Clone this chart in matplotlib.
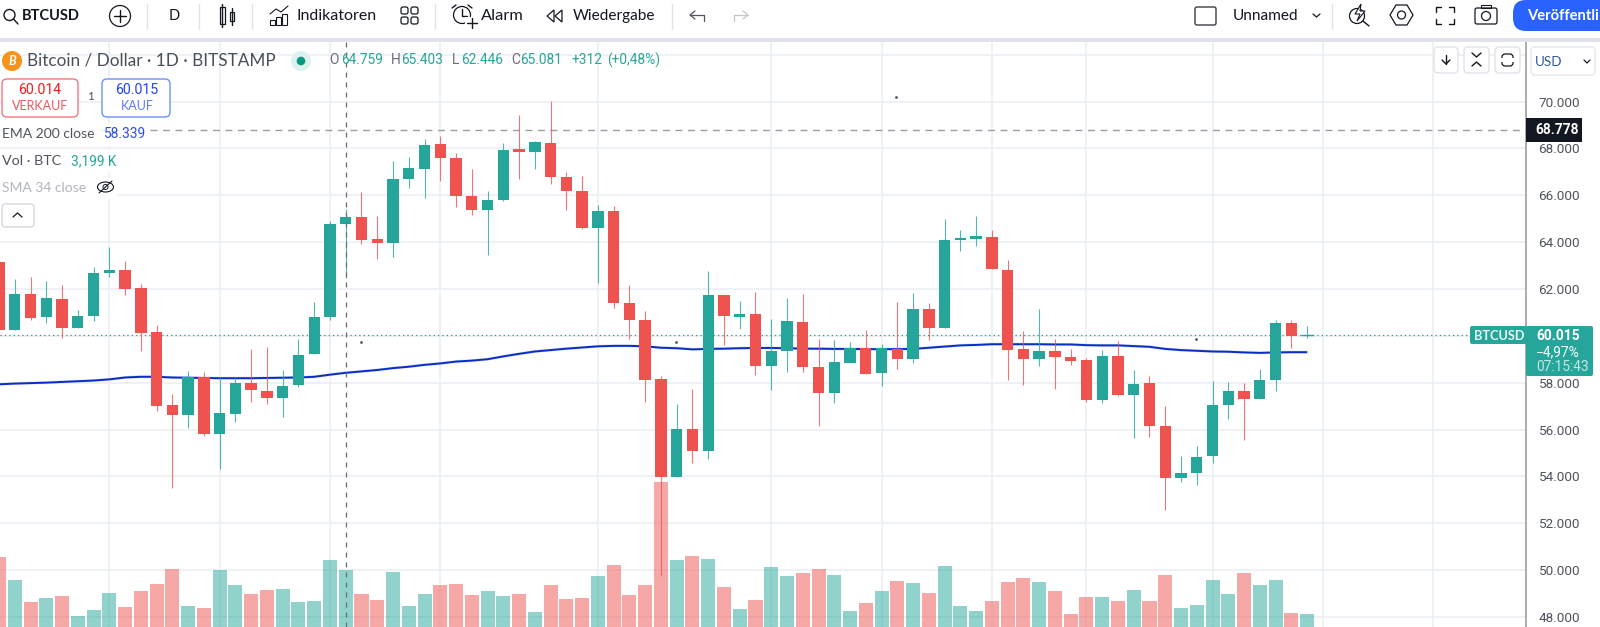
import matplotlib
matplotlib.use("Agg")
from matplotlib import pyplot as plt
from matplotlib.patches import Circle, Ellipse, FancyBboxPatch, Rectangle, Polygon
import numpy as np

plt.rcParams['font.family'] = ['Lato', 'DejaVu Sans']

# daily candles, thousands of USD
opens = [63.16, 60.25, 61.78, 60.81, 61.59, 60.32, 60.85, 62.66, 62.82, 62.05, 60.17, 57.04,
         56.62, 58.25, 55.81, 56.66, 58.00, 57.65, 57.33, 57.90, 59.23, 60.81, 64.76, 65.07,
         64.12, 63.96, 66.69, 67.14, 68.19, 67.59, 65.95, 65.35, 65.81, 67.96, 67.85, 68.22,
         66.78, 66.16, 64.62, 65.32, 61.39, 60.66, 58.14, 53.99, 56.03, 55.09, 61.75, 60.81,
         60.93, 58.70, 59.36, 60.59, 58.66, 57.56, 58.84, 59.47, 58.42, 59.44, 59.00, 61.16,
         60.34, 64.07, 64.12, 64.22, 62.80, 59.43, 59.00, 59.36, 59.10, 58.95, 57.24, 59.13,
         57.48, 57.98, 56.17, 53.91, 54.15, 54.86, 57.05, 57.64, 57.31, 58.11, 60.55, 60.014]
highs = [63.20, 62.41, 62.49, 62.34, 62.17, 61.10, 62.95, 63.79, 63.21, 62.20, 60.46, 57.50,
         58.50, 58.44, 58.22, 58.22, 59.45, 59.52, 58.54, 59.86, 61.43, 64.91, 65.40, 66.13,
         65.13, 67.47, 67.64, 68.41, 68.53, 67.79, 67.12, 66.17, 68.24, 69.44, 68.32, 70.03,
         67.01, 66.82, 65.59, 65.55, 62.17, 61.04, 58.30, 57.07, 57.72, 62.76, 61.75, 61.47,
         61.86, 60.71, 61.60, 61.80, 59.86, 59.81, 59.73, 60.24, 59.64, 61.43, 61.82, 61.39,
         65.00, 64.51, 65.12, 64.51, 63.25, 60.21, 61.16, 59.88, 59.43, 59.06, 59.39, 59.78,
         58.53, 58.29, 57.00, 54.86, 55.30, 58.06, 58.02, 57.98, 58.58, 60.67, 60.67, 60.42]
lows = [60.20, 60.25, 60.68, 60.56, 59.91, 60.32, 60.65, 62.49, 61.76, 59.35, 56.78, 53.52,
        56.05, 55.74, 54.32, 56.31, 57.17, 57.10, 56.55, 57.82, 59.23, 60.68, 62.45, 63.92,
        63.28, 63.35, 66.29, 65.88, 66.60, 65.49, 65.14, 63.45, 65.74, 66.68, 67.10, 66.50,
        65.35, 64.54, 62.27, 61.20, 59.86, 57.17, 49.75, 53.99, 54.57, 54.74, 59.59, 60.27,
        58.31, 57.69, 58.47, 58.47, 56.17, 57.12, 58.84, 58.39, 57.85, 58.58, 58.85, 59.81,
        60.34, 63.60, 63.84, 62.84, 58.11, 57.89, 58.73, 57.72, 58.76, 57.18, 57.15, 57.42,
        55.62, 55.66, 52.56, 53.75, 53.63, 54.59, 56.43, 55.55, 57.31, 57.65, 59.46, 59.90]
closes = [60.25, 61.78, 60.77, 61.63, 60.32, 60.85, 62.69, 62.82, 62.01, 60.13, 57.01, 56.62,
          58.25, 55.81, 56.70, 58.00, 57.70, 57.33, 57.85, 59.20, 60.81, 64.77, 65.08, 64.08,
          63.96, 66.69, 67.15, 68.14, 67.57, 65.95, 65.39, 65.81, 67.92, 67.86, 68.27, 66.78,
          66.16, 64.62, 65.32, 61.39, 60.66, 58.12, 53.98, 56.03, 55.09, 61.72, 60.85, 60.94,
          58.70, 59.35, 60.62, 58.66, 57.56, 58.86, 59.47, 58.39, 59.46, 59.00, 61.16, 60.34,
          64.07, 64.15, 64.26, 62.84, 59.39, 59.00, 59.36, 59.09, 58.92, 57.28, 59.13, 57.47,
          57.95, 56.14, 53.95, 54.14, 54.84, 57.05, 57.64, 57.31, 58.13, 60.55, 60.00, 60.015]
volumes = [69.8, 47.5, 24.8, 28.9, 30.6, 10.6, 17.0, 34.0, 19.8, 36.0, 43.1, 57.6, 21.4, 19.1,
           56.6, 42.1, 33.0, 37.0, 38.0, 24.8, 25.8, 66.7, 56.6, 33.0, 26.9, 54.6, 21.4, 33.0,
           42.1, 43.1, 32.3, 36.0, 31.3, 33.0, 15.0, 42.1, 27.9, 28.9, 50.9, 62.0, 32.3, 42.1,
           145.2, 66.7, 70.8, 68.1, 39.7, 18.1, 26.9, 60.0, 50.9, 53.9, 57.6, 51.9, 16.0, 24.3,
           36.0, 46.0, 44.0, 34.0, 61.0, 21.0, 16.0, 26.0, 45.0, 49.3, 45.0, 36.0, 13.3, 29.7,
           29.7, 26.0, 37.0, 26.0, 52.0, 19.0, 22.3, 47.0, 33.0, 54.0, 42.0, 47.0, 13.7, 13.0]
ema200 = [57.93, 57.96, 57.98, 58.00, 58.03, 58.06, 58.09, 58.14, 58.22, 58.25, 58.25, 58.22,
          58.21, 58.20, 58.19, 58.19, 58.19, 58.20, 58.21, 58.22, 58.25, 58.34, 58.42, 58.48,
          58.54, 58.62, 58.68, 58.76, 58.82, 58.90, 58.94, 59.00, 59.12, 59.23, 59.33, 59.39,
          59.45, 59.50, 59.55, 59.57, 59.57, 59.55, 59.49, 59.47, 59.42, 59.44, 59.45, 59.47,
          59.48, 59.48, 59.47, 59.45, 59.45, 59.44, 59.44, 59.43, 59.43, 59.43, 59.44, 59.49,
          59.54, 59.59, 59.61, 59.64, 59.64, 59.64, 59.64, 59.63, 59.63, 59.60, 59.59, 59.59,
          59.56, 59.53, 59.44, 59.39, 59.36, 59.33, 59.32, 59.29, 59.27, 59.29, 59.30, 59.30]

price_grid = [72, 70, 68, 66, 64, 62, 60, 58, 56, 54, 52, 50, 48]
# 60.000 sits behind the last price tag, so it gets no label
price_ticks = [70, 68, 66, 64, 62, 58, 56, 54, 52, 50, 48]
price_labels = ['70.000', '68.000', '66.000', '64.000', '62.000',
                '58.000', '56.000', '54.000', '52.000', '50.000', '48.000']
date_grid = [7, 14, 21, 28, 38, 49, 56, 63, 69, 77, 84, 91]

GREEN = '#26a69a'
RED = '#ef5350'
GRID = '#e9eff4'
DARK = '#131722'
GREY = '#50535e'
NUM = ['Roboto', 'DejaVu Sans']
W, H = 1600, 627

fig = plt.figure(figsize=(W / 100, H / 100), dpi=100, facecolor='white')
ax = fig.add_axes([0, 0, 1526 / W, (H - 42) / H])
ax.set_xlim(0.063, 96.89)
ax.set_ylim(47.57, 72.54)
for s in ax.spines.values():
    s.set_visible(False)
ax.spines['right'].set_visible(True)
ax.spines['right'].set_color('#9a9da6')
ax.spines['right'].set_linewidth(1.2)

ax.set_yticks(price_ticks)
ax.set_yticklabels(price_labels, fontsize=9.7, color=GREY, family=NUM)
ax.set_xticks([])
ax.hlines(price_grid, 0, 100, color=GRID, lw=1.1, zorder=1)
ax.vlines(date_grid, 40, 80, color=GRID, lw=1.1, zorder=1)

idx = np.arange(len(opens))
o, h, l, c = map(np.array, (opens, highs, lows, closes))
up = c >= o
col = np.where(up, GREEN, RED)
ax.plot(idx, ema200, color='#d5dcf5', lw=2.1, zorder=2.5)
ax.plot(idx, ema200, color='#0a2dc4', lw=1.4, zorder=2.6, solid_capstyle='butt')
ax.vlines(idx, l, h, color=col, lw=0.8, alpha=0.8, zorder=3)
body = np.maximum(np.abs(c - o), 0.1)
ax.bar(idx[:-1], body[:-1], 0.72, np.minimum(o, c)[:-1], color=col[:-1], zorder=4)
ax.hlines(c[-1], idx[-1] - 0.36, idx[-1] + 0.36, color=GREEN, lw=1, zorder=4)

# price lines
ax.axhline(68.778, color='#9b9ea6', lw=1, dashes=(5, 4), zorder=2)
ax.axhline(60.015, color='#1c9c90', lw=0.9, ls=(0, (1, 2.5)), zorder=2)

# volume pane, drawn over the candles like in the screenshot
ax_vol = ax.twinx()
ax_vol.set_ylim(0, H - 42)
ax_vol.set_yticks([])
ax.yaxis.tick_right()
ax.tick_params(axis='y', length=0, pad=9)
for s in ax_vol.spines.values():
    s.set_visible(False)
ax_vol.bar(idx, volumes, 0.89, color=np.where(up, GREEN, RED), alpha=0.5, zorder=2)
ax_vol.axvline(22, color='#6a6d78', lw=0.9, dashes=(4, 4), zorder=3)

# toolbar and labels in screen pixels
ui = fig.add_axes([0, 0, 1, 1], facecolor='none')
ui.set_xlim(0, W)
ui.set_ylim(H, 0)
ui.axis('off')


def txt(x, y, s, size=10.5, color=DARK, weight='normal', ha='left', **kw):
    return ui.text(x, y, s, fontsize=size, color=color, fontweight=weight, ha=ha, va='center', **kw)


def box(x0, y0, x1, y1, r=4, fc='white', ec='#e0e3eb', lw=1.0, z=6):
    p = FancyBboxPatch((x0 + r, y0 + r), x1 - x0 - 2 * r, y1 - y0 - 2 * r,
                       boxstyle=f'round,pad={r},rounding_size={r}', fc=fc, ec=ec, lw=lw, zorder=z)
    ui.add_patch(p)


def seg(xs, ys, color=DARK, lw=1.0, z=7):
    ui.plot(xs, ys, color=color, lw=lw, zorder=z, solid_capstyle='round')


ui.add_patch(Rectangle((0, 0), W, 38, fc='white', ec='none', zorder=1))
ui.add_patch(Rectangle((0, 38), W, 4, fc='#e0e3eb', ec='none', zorder=1))
for sx in [147, 199, 252, 435, 672, 1332]:
    seg([sx, sx], [4, 29], color='#e0e3eb', lw=1)

# left toolbar
ui.add_patch(Circle((9.5, 15), 5.5, fc='none', ec=DARK, lw=1, zorder=7))
seg([13.5, 18], [19, 24])
txt(22, 16, 'BTCUSD', size=10.5, weight='bold')
ui.add_patch(Circle((120, 16), 10.5, fc='none', ec=DARK, lw=0.9, zorder=7))
seg([114, 126], [16, 16])
seg([120, 120], [10, 22])
txt(174, 16, 'D', size=10.5, ha='center')
ui.add_patch(Rectangle((220, 7), 4.5, 17, fc='none', ec=DARK, lw=0.9, zorder=7))
ui.add_patch(Rectangle((229.5, 12), 4.5, 9, fc='none', ec=DARK, lw=0.9, zorder=7))
seg([222, 222], [4, 27])
seg([232, 232], [8, 25])
for bx, by in zip([270, 276, 282], [20, 17, 14]):
    ui.add_patch(Rectangle((bx, by), 5, 25 - by, fc='none', ec=DARK, lw=0.8, zorder=7))
seg([270, 276, 281, 288], [14, 9, 12, 6], lw=0.8)
txt(297, 16, 'Indikatoren', size=11.5)
for gx in [401, 411]:
    for gy in [7, 17]:
        box(gx, gy, gx + 7, gy + 7, r=2, fc='none', ec=DARK, lw=0.9)
ui.add_patch(Circle((462, 15), 8.5, fc='none', ec=DARK, lw=0.9, zorder=7))
seg([462, 462, 467], [9, 16, 16])
seg([452, 456], [8, 5])
seg([472, 468], [8, 5])
ui.add_patch(Rectangle((465, 17), 14, 12, fc='white', ec='none', zorder=7))
seg([472, 472], [18, 28])
seg([467, 477], [23, 23])
txt(481, 16, 'Alarm', size=11.8)
ui.add_patch(Polygon([[554, 10], [547, 16], [554, 22]], fc='none', ec=DARK, lw=0.9, zorder=7))
ui.add_patch(Polygon([[562, 10], [555, 16], [562, 22]], fc='none', ec=DARK, lw=0.9, zorder=7))
txt(573, 16, 'Wiedergabe', size=11.1)
seg([690, 704, 704], [15, 15, 21], color='#50535e', lw=0.9)
seg([695, 690, 695], [11, 15, 19], color='#50535e', lw=0.9)
seg([748, 734, 734], [15, 15, 21], color='#c4c6cc', lw=0.9)
seg([743, 748, 743], [11, 15, 19], color='#c4c6cc', lw=0.9)

# right toolbar
box(1195, 7, 1216, 25, r=2, ec='#3a3d46', lw=1)
txt(1233, 16, 'Unnamed', size=11.1)
seg([1313, 1316.5, 1320], [14, 17, 14], lw=0.9)
ui.add_patch(Circle((1357, 16), 7.5, fc='none', ec=DARK, lw=0.9, zorder=7))
ui.add_patch(Polygon([[1361, 4], [1355, 14], [1360, 14], [1357, 21], [1365, 11], [1360, 11]],
                     fc='white', ec=DARK, lw=0.8, zorder=8))
seg([1363, 1369], [21, 26])
ui.add_patch(Polygon([[1390, 15], [1396, 5], [1407, 5], [1413, 15], [1407, 25], [1396, 25]],
                     fc='none', ec=DARK, lw=0.9, zorder=7))
ui.add_patch(Circle((1401.5, 15), 4, fc='none', ec=DARK, lw=0.9, zorder=7))
for fx, fd in [(1436, 1), (1454, -1)]:
    for fy, fe in [(7, 1), (24, -1)]:
        seg([fx, fx, fx + 5 * fd], [fy + 5 * fe, fy, fy], lw=1)
box(1475, 8, 1497, 24, r=2, ec=DARK, lw=0.9)
ui.add_patch(Rectangle((1481, 5), 10, 3, fc='none', ec=DARK, lw=0.8, zorder=7))
ui.add_patch(Circle((1486, 16), 4.5, fc='none', ec=DARK, lw=0.9, zorder=8))
box(1513, 0, 1640, 31, r=13, fc='#2962ff', ec='none')
txt(1527, 16, 'Veröffentli', size=10.6, color='white', weight='bold', zorder=8)

# chart legend
for rx0, ry0, rx1, ry1 in [(0, 123, 148, 146), (0, 150, 122, 173), (0, 177, 118, 199)]:
    ui.add_patch(Rectangle((rx0, ry0), rx1 - rx0, ry1 - ry0, fc='white', ec='none', alpha=0.85, zorder=5))
ui.add_patch(Circle((12, 61), 10, fc='#f7931a', ec='none', zorder=6))
txt(12, 61, 'B', size=9, color='white', weight='bold', ha='center', style='italic', zorder=7)
txt(27, 61, 'Bitcoin / Dollar · 1D · BITSTAMP', size=12.3, color='#4a4e59')
ui.add_patch(Circle((301, 61), 10, fc='#dcf2ee', ec='none', zorder=6))
ui.add_patch(Circle((301, 61), 4.3, fc='#089981', ec='none', zorder=7))
ohlc_x = [329, 341, 391, 401, 452, 461, 511, 520, 571, 607]
ohlc_s = ['O', '64.759', 'H', '65.403', 'L', '62.446', 'C', '65.081', '+312', '(+0,48%)']
for tx, ts in zip(ohlc_x, ohlc_s):
    txt(tx, 60.5, ts, size=9.9, color='#6a6d78' if ts in 'OHLC' else GREEN, family=NUM)

box(2, 79, 78, 117, r=5, ec='#f5757f', lw=1)
txt(40, 90, '60.014', size=10.2, color='#f01b1b', ha='center', zorder=7, family=NUM)
txt(40, 106, 'VERKAUF', size=9, color='#f4565e', ha='center', zorder=7)
txt(90, 97, '1', size=8.4, color=GREY, ha='center')
box(102, 79, 170, 117, r=5, ec='#6e8ffb', lw=1)
txt(137, 90, '60.015', size=10.2, color='#2343f6', ha='center', zorder=7, family=NUM)
txt(137, 106, 'KAUF', size=9, color='#5b7cf6', ha='center', zorder=7)

txt(2, 134, 'EMA 200 close', size=10, color=GREY, zorder=6)
txt(103, 134, '58.339', size=9.9, color='#2b50e8', zorder=6, family=NUM)
txt(2, 161, 'Vol · BTC', size=10.3, color=GREY, zorder=6)
txt(71, 161, '3,199 K', size=9.9, color=GREEN, zorder=6, family=NUM)
txt(2, 188, 'SMA 34 close', size=10, color='#b2b5be', zorder=6)
ui.add_patch(Ellipse((105.5, 187), 16, 10, fc='none', ec=DARK, lw=0.8, zorder=7))
ui.add_patch(Circle((105.5, 187), 2.5, fc='none', ec=DARK, lw=0.7, zorder=7))
seg([99, 112], [193, 181], lw=0.8)
box(2, 204, 34, 227, r=3, ec='#d6d8de')
seg([13, 17.5, 22], [217, 213, 217], lw=0.9)

# buttons top right of the pane
for bx0, bx1 in [(1434, 1458), (1464, 1489), (1495, 1520)]:
    box(bx0, 47, bx1, 73, r=4, ec='#e0e3eb')
seg([1446, 1446], [55, 64])
seg([1442, 1446, 1450], [60, 64, 60])
seg([1472, 1476.5, 1481], [53, 57, 53])
seg([1472, 1476.5, 1481], [66, 62, 66])
box(1502, 54, 1513, 66, r=3, fc='none', ec=DARK, lw=0.9, z=7)
ui.add_patch(Rectangle((1499, 58), 18, 4, fc='white', ec='none', zorder=8))
box(1531, 47, 1595, 75, r=4, ec='#e6e8ec')
txt(1535, 62, 'USD', size=9.6, color='#2a5a9c', zorder=7)
seg([1584, 1587, 1590], [60, 63, 60], lw=0.9)

# price tags
ui.add_patch(Rectangle((1526, 118), 56, 24, fc='#131722', ec='none', zorder=6))
txt(1535, 130, '68.778', size=9.9, color='white', weight='bold', zorder=7, family=NUM)
box(1470, 326, 1527, 344, r=2, fc=GREEN, ec='none')
txt(1474, 335.5, 'BTCUSD', size=9.2, color='#e9f6f5', weight='bold', zorder=7)
box(1526, 326, 1593, 376, r=2, fc=GREEN, ec='none')
txt(1536, 336, '60.015', size=9.9, color='white', weight='bold', zorder=7, family=NUM)
txt(1536, 352, '−4,97%', size=9.9, color='white', zorder=7, family=NUM)
txt(1536, 367, '07:15:43', size=9.9, color='#c4e6e2', zorder=7, family=NUM)

# stray specks visible on the screenshot
ui.plot([896, 361, 676, 1196], [97, 342, 342, 339], ls='none', marker='s', ms=0.9, color='#55585f', zorder=7)

fig.savefig('out.png', dpi=100, facecolor='white')
